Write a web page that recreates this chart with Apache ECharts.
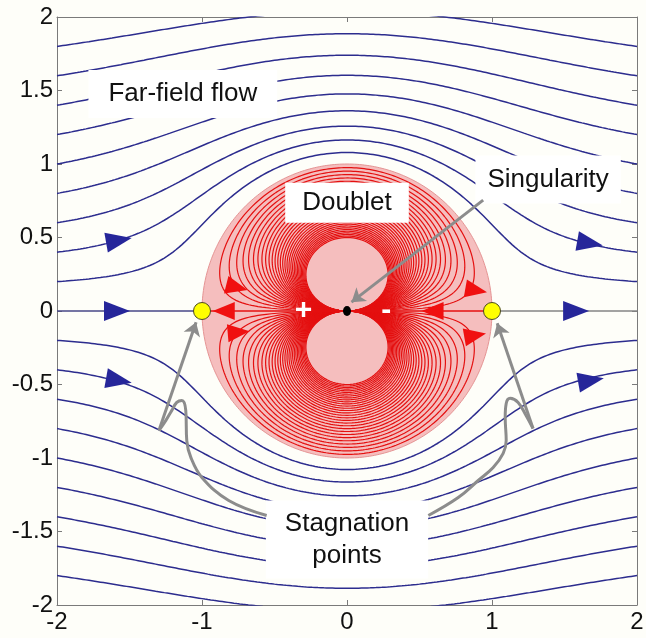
<!DOCTYPE html>
<html><head><meta charset="utf-8">
<script src="https://cdn.jsdelivr.net/npm/echarts/dist/echarts.min.js"></script>
<style>html,body{margin:0;padding:0;background:#fefef9}#c{width:646px;height:638px}</style>
</head><body><div id="c"></div>
<script>
// ---------------- data ----------------
const xRange = [-2, 2];
const yRange = [-2, 2];
// far-field streamlines: heights where each line enters at the left edge x=-2
const farFieldSeedY = [0.2, 0.4, 0.6, 0.8, 1.0, 1.2, 1.4, 1.6, 1.8,
                       -0.2, -0.4, -0.6, -0.8, -1.0, -1.2, -1.4, -1.6, -1.8];
const farFieldSeedX = -2;
// doublet (inner) stream-function levels, |psi|
const doubletLevels = [0.05, 0.1, 0.15, 0.2, 0.25, 0.3, 0.35, 0.4, 0.45, 0.5,
                       0.55, 0.6, 0.65, 0.7, 0.75, 0.8, 0.85, 0.9, 0.95, 1.0,
                       1.05, 1.1, 1.15, 1.2, 1.25, 1.3, 1.35, 1.4, 1.45, 1.5];
const cylinderRadius = 1;
const stagnationPoints = [[-1, 0], [1, 0]];
const singularityPoint = [[0, 0]];
// arrows: [x, y, direction angle in degrees (0 = pointing right)]
const blueArrows = [[-1.573, 0.481, 10], [-1.586, 0, 0], [-1.573, -0.472, -10],
                    [1.676, 0.461, -10], [1.58, 0, 0], [1.683, -0.472, 10]];
const redArrows = [[-0.85, 0, 180], [-0.759, 0.161, -14], [-0.747, -0.145, 5],
                   [0.59, 0, 180], [0.891, 0.141, -10], [0.884, -0.166, 10]];
// text labels: [x, y, text]
const labelFar = [-1.132, 1.476, 'Far-field flow'];
const labelDoublet = [0, 0.737, 'Doublet'];
const labelSing = [1.387, 0.894, 'Singularity'];
const labelStag = [0, -1.555, 'Stagnation\npoints'];
const plusMinus = [[-0.30, 0, '+'], [0.27, 0, '-']];
// annotation pointer paths (data coordinates)
const pointerLeftCurve = [[-0.554, -1.391], [-0.816, -1.289], [-1.001, -1.132], [-1.077, -0.996],
  [-1.105, -0.881], [-1.112, -0.676], [-1.139, -0.608], [-1.174, -0.622], [-1.208, -0.676],
  [-1.249, -0.744], [-1.297, -0.813]];
const pointerRightCurve = [[0.561, -1.391], [0.767, -1.269], [0.905, -1.153], [1.008, -1.065],
  [1.077, -0.969], [1.098, -0.881], [1.091, -0.724], [1.098, -0.629], [1.125, -0.594],
  [1.180, -0.622], [1.235, -0.711], [1.283, -0.799]];
const pointerArrows = [
  [[-1.297, -0.813], [-1.041, -0.077]],
  [[1.283, -0.799], [1.036, -0.084]],
  [[0.939, 0.754], [0.031, 0.060]]
];

// ---------------- geometry of the flow (uniform flow + doublet) ----------------
function psi(x, y) { const r2 = x * x + y * y; return y * (1 - cylinderRadius * cylinderRadius / r2); }
function farStreamline(y0) {
  const c = Math.abs(psi(farFieldSeedX, y0)), s = Math.sign(y0), pts = [];
  for (let i = 0; i <= 400; i++) {
    const x = xRange[0] + i * (xRange[1] - xRange[0]) / 400;
    let lo = Math.sqrt(Math.max(0, 1 - x * x)) + 1e-9, hi = 20;
    for (let j = 0; j < 60; j++) { const m = (lo + hi) / 2; if (psi(x, m) < c) lo = m; else hi = m; }
    pts.push([x, s * (lo + hi) / 2]);
  }
  return pts;
}
function doubletLoop(k, sign) {
  const pts = [[0, 0]], N = 700;
  for (let i = 1; i < N; i++) {
    const th = Math.PI * i / N, s = Math.sin(th);
    const r = (-k + Math.sqrt(k * k + 4 * s * s)) / (2 * s);
    pts.push([r * Math.cos(th), sign * r * s]);
  }
  pts.push([0, 0]);
  return pts;
}
const discPts = [];
for (let i = 0; i < 360; i++) { const t = i * Math.PI / 180; discPts.push([cylinderRadius * Math.cos(t), cylinderRadius * Math.sin(t)]); }

const FONT = 'Liberation Sans, Arial, sans-serif';
const BLUE = '#2c2c8e', RED = '#e41010', GRAY = '#8c8c8c', AX = '#7a7a7a';
const series = [];

series.push({ type: 'custom', z: 1, silent: true, data: [[0, 0]],
  renderItem: function (params, api) {
    return { type: 'polygon', shape: { points: discPts.map(p => api.coord(p)) },
      style: { fill: '#f5bebe', stroke: '#e59494', lineWidth: 1 } };
  } });

farFieldSeedY.forEach(y0 => series.push({ type: 'line', z: 2, silent: true, showSymbol: false, symbol: 'none',
  data: farStreamline(y0), lineStyle: { color: BLUE, width: 1.5 } }));
series.push({ type: 'line', z: 2, showSymbol: false, symbol: 'none', data: [[xRange[0], 0], [-cylinderRadius, 0]], lineStyle: { color: '#474787', width: 1.5 } });
series.push({ type: 'line', z: 2, showSymbol: false, symbol: 'none', data: [[cylinderRadius, 0], [xRange[1], 0]], lineStyle: { color: '#858585', width: 1.5 } });

doubletLevels.forEach(k => {
  [1, -1].forEach(sg => series.push({ type: 'line', z: 3, silent: true, showSymbol: false, symbol: 'none',
    data: doubletLoop(k, sg), lineStyle: { color: RED, width: 1.2 } }));
});
series.push({ type: 'line', z: 3, showSymbol: false, symbol: 'none', data: [[-cylinderRadius, 0], [cylinderRadius, 0]], lineStyle: { color: RED, width: 1.5 } });

function arrowSeries(arr, color, size) {
  return { type: 'scatter', z: 4, symbol: 'triangle', symbolSize: size,
    itemStyle: { color: color, opacity: 1 },
    data: arr.map(a => ({ value: [a[0], a[1]], symbolRotate: a[2] - 90 })) };
}
series.push(arrowSeries(blueArrows, '#26269a', [20, 26]));
series.push(arrowSeries(redArrows, '#f01010', [18, 22]));

function textSeries(lab, pad, lh) {
  return { type: 'scatter', z: 5, symbolSize: 1, itemStyle: { color: 'rgba(0,0,0,0)', opacity: 1 },
    data: [[lab[0], lab[1]]],
    label: { show: true, position: 'inside', formatter: lab[2], backgroundColor: '#ffffff', opacity: 1,
      padding: pad, fontSize: 26, lineHeight: lh, color: '#111111', fontFamily: FONT, align: 'center' } };
}
series.push(textSeries(labelFar, [9, 20], 30));
series.push(textSeries(labelDoublet, [5, 17], 30));
series.push(textSeries(labelSing, [9, 12], 30));
series.push(textSeries(labelStag, [7, 19], 32));

[pointerLeftCurve, pointerRightCurve].forEach(c => series.push({ type: 'line', z: 6, smooth: 0.4, showSymbol: false, symbol: 'none',
  data: c, lineStyle: { color: GRAY, width: 3 } }));
series.push({ type: 'lines', coordinateSystem: 'cartesian2d', z: 6, polyline: false,
  symbol: ['none', 'arrow'], symbolSize: 13,
  lineStyle: { color: GRAY, width: 3, opacity: 1 },
  data: pointerArrows.map(p => ({ coords: p })) });

series.push({ type: 'scatter', z: 7, symbol: 'circle', symbolSize: 17, data: stagnationPoints,
  itemStyle: { color: '#ffff00', borderColor: '#4a4a20', borderWidth: 1, opacity: 1 } });
series.push({ type: 'scatter', z: 7, symbol: 'circle', symbolSize: [8, 10], data: singularityPoint,
  itemStyle: { color: '#000', opacity: 1 } });
series.push({ type: 'scatter', z: 7, symbolSize: 1, itemStyle: { color: 'rgba(0,0,0,0)', opacity: 1 },
  data: plusMinus.map(p => ({ value: [p[0], p[1]], label: { formatter: p[2] } })),
  label: { show: true, position: 'inside', color: '#fff', fontSize: 30, fontWeight: 'bold', fontFamily: FONT } });

function axisCommon(extra) {
  return Object.assign({ type: 'value', splitLine: { show: false },
    axisLine: { show: true, onZero: false, lineStyle: { color: AX, width: 1 } },
    axisTick: { show: true, inside: true, length: 5, lineStyle: { color: AX } } }, extra);
}
const chart = echarts.init(document.getElementById('c'), null, { renderer: 'canvas' });
chart.setOption({
  animation: false,
  backgroundColor: '#fefef9',
  grid: { left: 57, right: 9, top: 17, bottom: 33, outerBoundsMode: 'none', containLabel: false },
  xAxis: [
    axisCommon({ min: xRange[0], max: xRange[1], interval: 1, position: 'bottom',
      axisLabel: { fontSize: 24, color: '#111', margin: 5, fontFamily: FONT } }),
    axisCommon({ min: xRange[0], max: xRange[1], interval: 1, position: 'top', axisLabel: { show: false } })
  ],
  yAxis: [
    axisCommon({ min: yRange[0], max: yRange[1], interval: 0.5, position: 'left',
      axisLabel: { fontSize: 24, color: '#111', margin: 4, fontFamily: FONT } }),
    axisCommon({ min: yRange[0], max: yRange[1], interval: 0.5, position: 'right', axisLabel: { show: false } })
  ],
  series: series
});
</script></body></html>
